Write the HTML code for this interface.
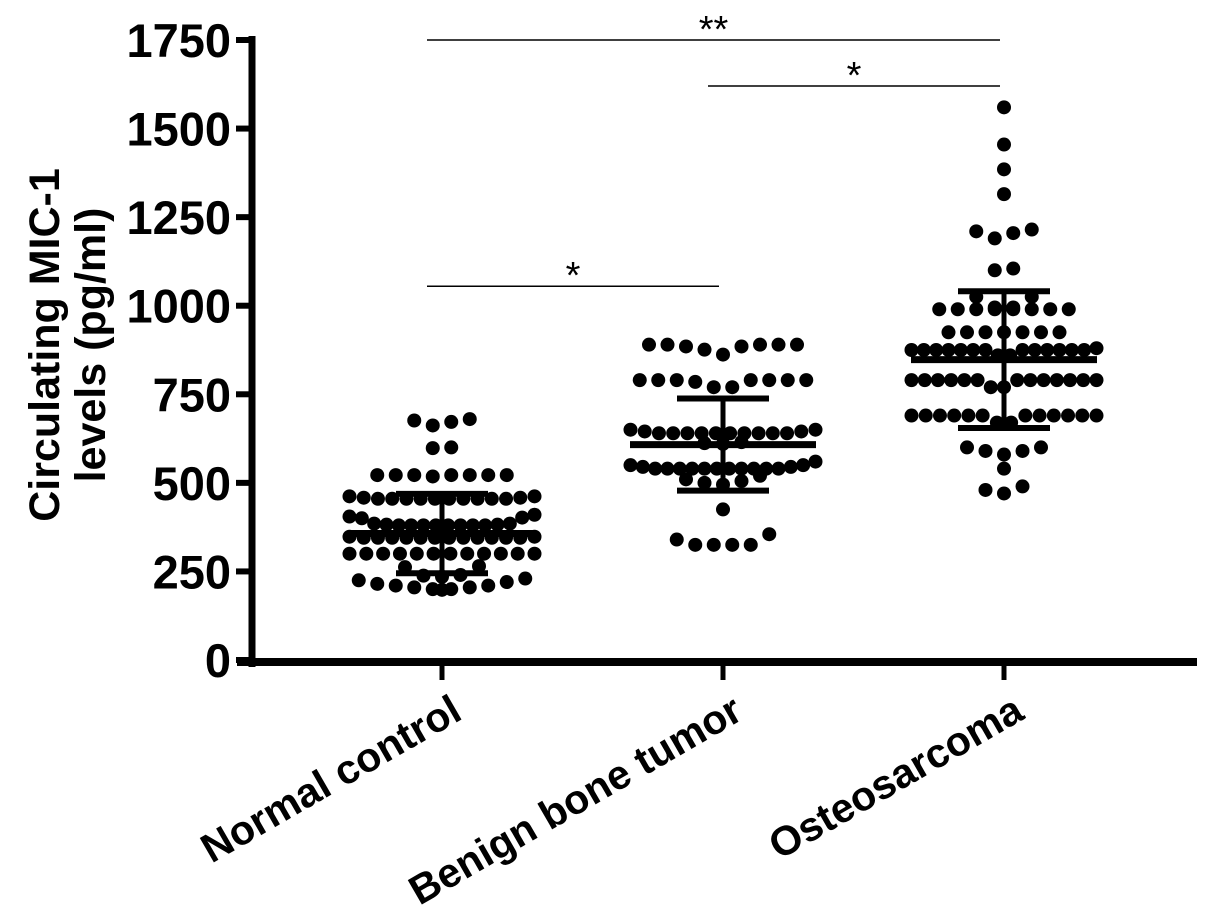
<!DOCTYPE html>
<html><head><meta charset="utf-8"><style>
html,body{margin:0;padding:0;background:#fff}
svg{display:block;font-family:"Liberation Sans",Arial,sans-serif;font-weight:bold}
</style></head><body>
<svg id="chart" width="1205" height="917" viewBox="0 0 1205 917" xmlns="http://www.w3.org/2000/svg">
<g id="axes"></g>
<g id="marks"></g>
<text transform="translate(59,345) rotate(-90)" text-anchor="middle" font-size="43">Circulating MIC-1</text>
<text transform="translate(105,345) rotate(-90)" text-anchor="middle" font-size="43">levels (pg/ml)</text>
</svg>
<script>
const categories = ["Normal control","Benign bone tumor","Osteosarcoma"];
const normalValues = [680,672,662,676,600,598,522,522,522,522,518,522,522,522,462,458,455,455,455,455,455,455,455,455,455,455,458,462,410,405,402,400,385,382,380,380,380,380,380,380,380,380,382,385,348,345,345,345,345,345,345,345,345,345,345,345,345,348,300,300,300,300,300,300,300,300,300,300,300,300,265,262,240,238,235,230,225,220,215,210,205,200,198,200,205,210];
const benignValues = [890,890,890,885,885,890,890,862,876,790,790,790,785,790,790,790,790,770,770,650,645,640,640,640,640,640,640,640,640,640,640,645,650,615,612,610,560,550,545,540,540,540,540,540,540,540,540,540,540,540,545,550,520,510,505,500,495,425,355,340,325,325,325,325];
const osteoValues = [1560,1455,1385,1315,1210,1205,1190,1215,1100,1105,1025,1025,995,990,990,990,990,990,990,990,990,995,925,925,925,925,925,925,925,880,875,875,875,875,875,875,875,875,875,875,875,875,875,860,860,790,790,790,790,790,790,790,790,790,790,790,790,790,770,770,690,690,690,690,690,690,690,690,690,690,690,690,670,670,600,590,580,590,600,540,490,470,480];
const means = [357,608,848];
const sds = [112,130,193];
const yTicks = [0,250,500,750,1000,1250,1500,1750];
const sigPairs = [[0,2],[1,2],[0,1]];
const sigLevels = [1750,1620,1055];
const sigLabels = ["**","*","*"];

const NS="http://www.w3.org/2000/svg";
const y = v => 660 - v*(620/1750);
const xc = i => 442 + i*281;
const axes=document.getElementById('axes'), marks=document.getElementById('marks');
function mk(tag,attrs,parent){const e=document.createElementNS(NS,tag);for(const k in attrs)e.setAttribute(k,attrs[k]);parent.appendChild(e);return e;}

let a=mk('line',{x1:252,y1:36,x2:252,y2:667,stroke:'#000','stroke-width':7},axes);


a=mk('line',{x1:237,y1:662,x2:1197,y2:662,stroke:'#000','stroke-width':8},axes);


yTicks.forEach(t=>{
  const tk=mk('line',{x1:236,y1:y(t),x2:252,y2:y(t),stroke:'#000','stroke-width':6},axes);
  
  
  const tl=mk('text',{x:231,y:y(t)+17,'text-anchor':'end','font-size':47},axes);
  tl.textContent=t;
  
  
});
categories.forEach((c,i)=>{
  const tk=mk('line',{x1:xc(i),y1:662,x2:xc(i),y2:680,stroke:'#000','stroke-width':5},axes);
  
  
  const tl=mk('text',{'text-anchor':'end','font-size':41,transform:`translate(${xc(i)+22},${718}) rotate(-30)`},axes);
  tl.textContent=c;
  
  
});

function swarm(vals,i){
  const s=[...vals].sort((p,q)=>q-p);
  const rows=[];let cur=null;
  s.forEach(v=>{ if(!cur||v<cur.start-30){cur={start:v,vals:[]};rows.push(cur);} cur.vals.push(v); });
  rows.forEach(r=>{
    const vs=[...r.vals].sort((p,q)=>p-q);
    const n=vs.length;
    const sp=n>1?Math.min(18.5,185/(n-1)):0;
    const slots=[];for(let k=0;k<n;k++)slots.push((k-(n-1)/2)*sp);
    slots.sort((p,q)=>Math.abs(p)-Math.abs(q));
    vs.forEach((v,k)=>{
      const d=mk('circle',{cx:xc(i)+slots[k],cy:y(v),r:7,fill:'#000'},marks);
      
      
    });
  });
}
[normalValues,benignValues,osteoValues].forEach((v,i)=>swarm(v,i));

means.forEach((m,i)=>{
  const x=xc(i);
  let l=mk('line',{x1:x-93,y1:y(m),x2:x+93,y2:y(m),stroke:'#000','stroke-width':7},marks);
  
  
  l=mk('line',{x1:x,y1:y(m+sds[i]),x2:x,y2:y(m-sds[i]),stroke:'#000','stroke-width':5},marks);
  
  
  [m+sds[i],m-sds[i]].forEach(v=>{
    const c=mk('line',{x1:x-46,y1:y(v),x2:x+46,y2:y(v),stroke:'#000','stroke-width':6},marks);
    
    
  });
});

sigPairs.forEach((p,k)=>{
  const yy=y(sigLevels[k]);
  const x1=xc(p[0])-15,x2=xc(p[1])-4;
  const l=mk('line',{x1:x1,y1:yy,x2:x2,y2:yy,stroke:'#000','stroke-width':1.5},marks);
  
  
  const t=mk('text',{x:(x1+x2)/2,y:yy+2,'text-anchor':'middle','font-size':38,'font-weight':'normal'},marks);
  t.textContent=sigLabels[k];
  
  
});
</script>
</body></html>
